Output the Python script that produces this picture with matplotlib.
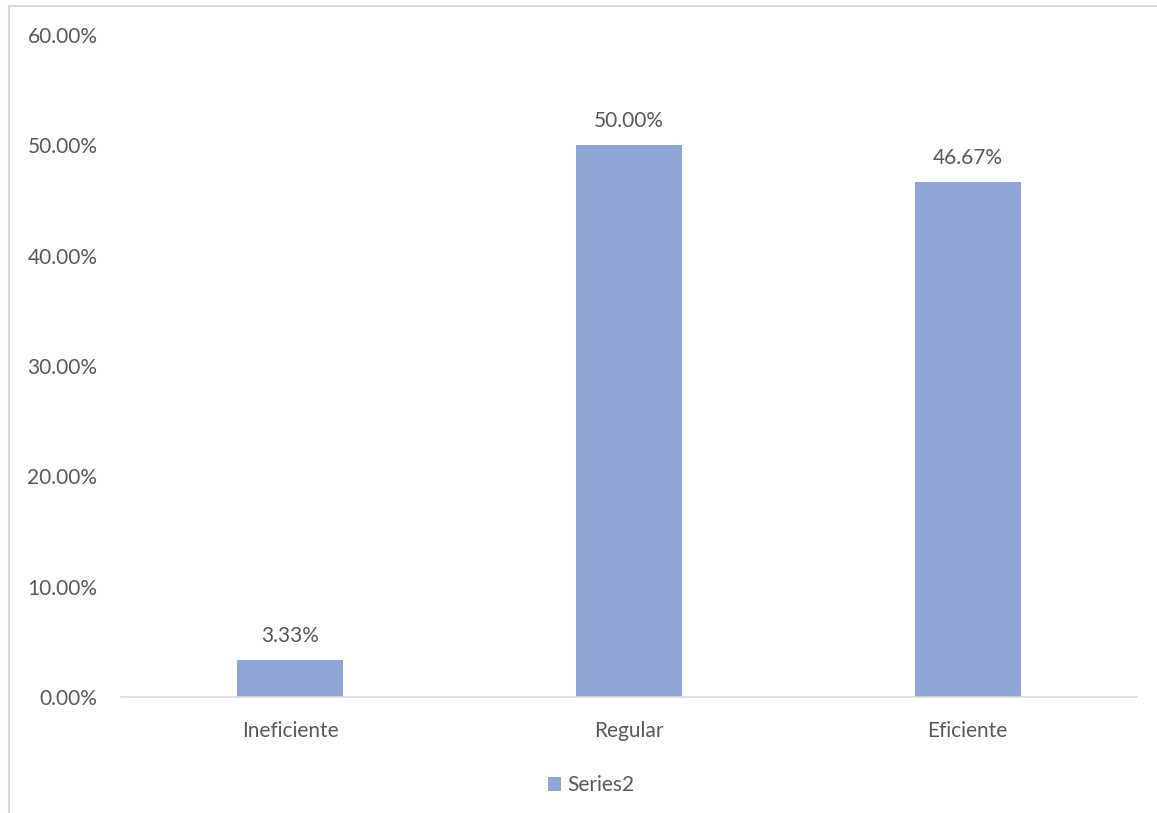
import matplotlib.pyplot as plt
from matplotlib.patches import Rectangle
from matplotlib.ticker import FuncFormatter

categories = ["Ineficiente", "Regular", "Eficiente"]
values = [3.33, 50.00, 46.67]
series_name = "Series2"

bar_color = "#8FA5D6"
text_color = "#595959"
grid_color = "#D9D9D9"

plt.rcParams['font.family'] = ['Lato', 'DejaVu Sans']
fs = 15

W, H = 1157, 813
fig = plt.figure(figsize=(W / 100, H / 100), dpi=100)
ax = fig.add_axes([121 / W, 1 - 697 / H, (1137 - 121) / W, (697 - 35) / H])

x = range(len(categories))
bars = ax.bar(x, values, width=0.313, color=bar_color, label=series_name, zorder=2)

for b, v in zip(bars, values):
    ax.annotate(f"{v:.2f}%", (b.get_x() + b.get_width() / 2, v),
                xytext=(0, 10), textcoords="offset points",
                ha="center", va="bottom", fontsize=fs, color=text_color)

ax.set_xlim(-0.5, 2.5)
ax.set_ylim(0, 60)
ax.set_yticks(range(0, 61, 10))
ax.yaxis.set_major_formatter(FuncFormatter(lambda v, p: f"{v:.2f}%"))
ax.set_xticks(list(x))
ax.set_xticklabels(categories)
ax.tick_params(axis="both", length=0, labelsize=fs, labelcolor=text_color)
ax.tick_params(axis="y", pad=17)
ax.tick_params(axis="x", pad=17)

for s in ["top", "right", "left"]:
    ax.spines[s].set_visible(False)
ax.spines["bottom"].set_color(grid_color)
ax.spines["bottom"].set_linewidth(1.2)

# outer chart frame
fig.patches.append(Rectangle((8.5 / W, -0.1), 1.2, 1.1 - 6.5 / H,
                             transform=fig.transFigure, fill=False,
                             edgecolor=grid_color, linewidth=1.5))

fig.legend(handles=[bars], labels=[series_name], loc="center",
           bbox_to_anchor=(591 / W, 1 - 785 / H), frameon=False,
           fontsize=fs, labelcolor=text_color, handlelength=0.65,
           handleheight=0.65, handletextpad=0.3)

fig.savefig("out.png", dpi=100)
